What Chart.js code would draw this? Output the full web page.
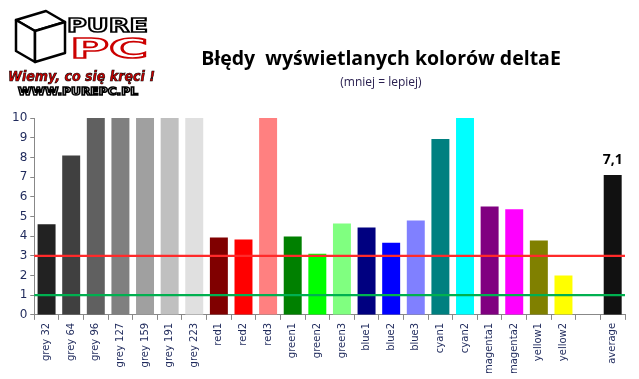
<!DOCTYPE html>
<html>
<head>
<meta charset="utf-8">
<script src="https://cdn.jsdelivr.net/npm/chart.js@4.4.1/dist/chart.umd.min.js"></script>
<style>
  body { margin: 0; background: #fff; }
  #wrap { position: relative; width: 639px; height: 379px; }
  #title { position: absolute; left: 180px; width: 402px; top: 44px; text-align: center;
    font: bold 19.5px "Open Sans", "Liberation Sans", sans-serif; color: #000; }
  #sub { position: absolute; left: 180px; width: 402px; top: 73px; text-align: center;
    font: 12px "Open Sans", "DejaVu Sans", sans-serif; color: #2a2050; }
  #logo { position: absolute; left: 0; top: 0; }
</style>
</head>
<body>
<div id="wrap">
  <canvas id="myChart" width="639" height="379"></canvas>
  <svg id="logo" width="165" height="105">
    <g stroke="#000" stroke-width="2.5" fill="#fff" stroke-linejoin="round">
      <polygon points="16,20 46,11 65,22 35,31"/>
      <polygon points="16,20 35,31 35,62 16,51"/>
      <polygon points="35,31 65,22 65,53 35,62"/>
    </g>
    <text x="67" y="32" textLength="81" lengthAdjust="spacingAndGlyphs" font-family="DejaVu Sans" font-weight="bold" font-size="19" fill="#fff" stroke="#000" stroke-width="1.6">PURE</text>
    <text x="70" y="58" textLength="78" lengthAdjust="spacingAndGlyphs" font-family="DejaVu Sans" font-weight="bold" font-size="27" fill="#fff" stroke="#c00" stroke-width="1.6">PC</text>
    <text x="8" y="81" textLength="147" lengthAdjust="spacingAndGlyphs" font-family="DejaVu Sans" font-style="italic" font-weight="bold" font-size="14" fill="#c00" stroke="#000" stroke-width="0.6">Wiemy, co się kręci !</text>
    <text x="18" y="95" textLength="120" lengthAdjust="spacingAndGlyphs" font-family="DejaVu Sans" font-weight="bold" font-size="11" fill="#fff" stroke="#000" stroke-width="1.5">WWW.PUREPC.PL</text>
  </svg>
  <div id="title">Błędy&nbsp; wyświetlanych kolorów deltaE</div>
  <div id="sub">(mniej = lepiej)</div>
</div>
<script>
// dane
const categories = ['grey 32', 'grey 64', 'grey 96', 'grey 127', 'grey 159', 'grey 191', 'grey 223',
  'red1', 'red2', 'red3', 'green1', 'green2', 'green3', 'blue1', 'blue2', 'blue3',
  'cyan1', 'cyan2', 'magenta1', 'magenta2', 'yellow1', 'yellow2', '', 'average'];
const deltaE = [4.6, 8.1, 10, 10, 10, 10, 10,
  3.93, 3.83, 10, 3.98, 3.1, 4.64, 4.44, 3.67, 4.8,
  8.93, 10, 5.5, 5.36, 3.78, 2.0, null, 7.1];
const barColors = ['#222222', '#404040', '#606060', '#808080', '#a0a0a0', '#c0c0c0', '#e0e0e0',
  '#800000', '#ff0000', '#ff8080', '#008000', '#00ff00', '#80ff80', '#000080', '#0000ff', '#8080ff',
  '#008080', '#00ffff', '#800080', '#ff00ff', '#808000', '#ffff00', '#ffffff', '#111111'];
const limits = [3, 1];
const limitColors = ['#ff2a2a', '#00b050'];
const yTicks = [0, 1, 2, 3, 4, 5, 6, 7, 8, 9, 10];

const labelColor = '#1f2a5c';

const refLines = {
  id: 'refLines',
  afterDatasetsDraw(chart) {
    const { ctx, chartArea, scales } = chart;
    ctx.save();
    ctx.lineWidth = 2.2;
    limits.forEach((v, i) => {
      const y = scales.y.getPixelForValue(v);
      ctx.strokeStyle = limitColors[i];
      ctx.beginPath();
      ctx.moveTo(chartArea.left, y);
      ctx.lineTo(chartArea.right, y);
      ctx.stroke();
    });
    // etykieta sredniej
    const meta = chart.getDatasetMeta(0);
    const last = meta.data[deltaE.length - 1];
    ctx.fillStyle = '#000';
    ctx.font = 'bold 14px "Open Sans", "DejaVu Sans", sans-serif';
    ctx.textAlign = 'center';
    ctx.textBaseline = 'bottom';
    ctx.fillText(String(deltaE[deltaE.length - 1]).replace('.', ','), last.x, last.y - 8);
    ctx.restore();
  }
};

new Chart(document.getElementById('myChart'), {
  type: 'bar',
  data: {
    labels: categories,
    datasets: [{
      data: deltaE,
      backgroundColor: barColors,
      categoryPercentage: 1,
      barPercentage: 0.73
    }]
  },
  options: {
    responsive: false,
    animation: false,
    layout: { padding: { top: 118, right: 14, left: 9, bottom: 2 } },
    plugins: { legend: { display: false }, tooltip: { enabled: false } },
    scales: {
      x: {
        grid: { offset: true, drawOnChartArea: false, tickLength: 5, color: '#888' },
        border: { color: '#888' },
        ticks: {
          autoSkip: false, maxRotation: 90, minRotation: 90,
          color: labelColor, font: { family: 'DejaVu Sans', size: 10 }
        }
      },
      y: {
        min: 0, max: 10,
        afterBuildTicks: (axis) => { axis.ticks = yTicks.map(v => ({ value: v })); },
        grid: { drawOnChartArea: false, tickLength: 4, color: '#888' },
        border: { color: '#888' },
        ticks: { color: labelColor, font: { family: 'DejaVu Sans', size: 12 }, padding: 3 }
      }
    }
  },
  plugins: [refLines]
});
</script>
</body>
</html>
